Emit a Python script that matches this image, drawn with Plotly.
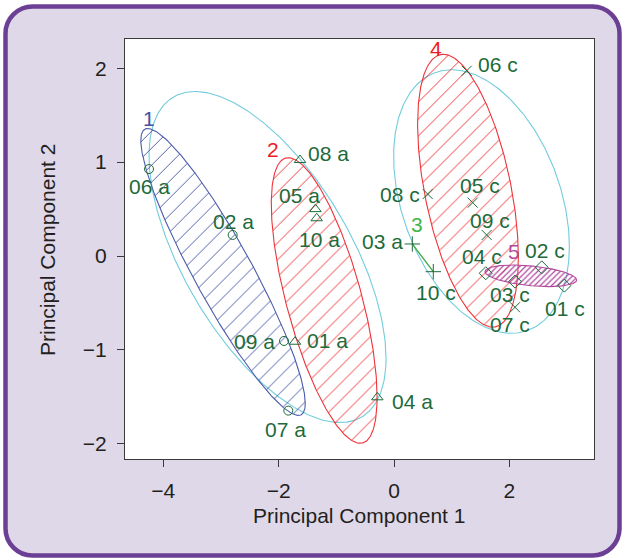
import numpy as np
import plotly.graph_objects as go

# ---------------- data ----------------
point_labels = ["06 a", "02 a", "09 a", "07 a",
                "08 a", "05 a", "10 a", "01 a", "04 a",
                "03 a", "10 c",
                "06 c", "08 c", "05 c", "09 c", "07 c",
                "04 c", "02 c", "03 c", "01 c"]
pc1 = [-4.246, -2.796, -1.906, -1.832,
       -1.629, -1.362, -1.340, -1.716, -0.289,
       0.317, 0.681,
       1.260, 0.584, 1.364, 1.606, 2.097,
       1.589, 2.560, 2.097, 2.952]
pc2 = [0.926, 0.224, -0.905, -1.647,
       1.022, 0.499, 0.402, -0.913, -1.505,
       0.128, -0.167,
       1.973, 0.660, 0.568, 0.224, -0.546,
       -0.184, -0.121, -0.273, -0.316]
cluster = [1, 1, 1, 1,
           2, 2, 2, 2, 2,
           3, 3,
           4, 4, 4, 4, 4,
           5, 5, 5, 5]

# cluster ellipses (centre, half-extent in x, half-extent in y, correlation)
clus_ids = [1, 2, 4, 5]
clus_cx = [-2.963, -1.210, 1.282, 2.371]
clus_cy = [-0.170, -0.474, 0.695, -0.211]
clus_sx = [1.425, 0.917, 0.873, 0.794]
clus_sy = [1.528, 1.521, 1.453, 0.115]
clus_rho = [-0.916, -0.677, -0.488, -0.390]

# outer (cyan) ellipses
outer_cx = [-2.192, 1.516]
outer_cy = [-0.011, 0.580]
outer_sx = [2.054, 1.523]
outer_sy = [1.763, 1.403]
outer_rho = [-0.612, -0.341]

x_ticks = [-4, -2, 0, 2]
y_ticks = [-2, -1, 0, 1, 2]
x_title = "Principal Component 1"
y_title = "Principal Component 2"

# ---------------- styles ----------------
FONT = "Liberation Sans, Arial, Helvetica, sans-serif"
FS = 21
TXT = "#231F20"
LBL = "#1D6B3A"
clus_line = {1: "#4B5BAA", 2: "#EE3338", 3: "#3DA641", 4: "#EE3338", 5: "#B0489E"}
clus_text = {1: "#3F51A5", 2: "#ED1C24", 3: "#40B549", 4: "#ED1C24", 5: "#B04BA0"}
clus_hatch = {1: dict(size=12, solidity=0.08), 2: dict(size=12, solidity=0.08),
              4: dict(size=12, solidity=0.08), 5: dict(size=4, solidity=0.3)}
symbols = {1: "circle-open", 2: "triangle-up-open", 3: "cross-thin-open",
           4: "x-thin-open", 5: "diamond-open"}
msize = {1: 9, 2: 10, 3: 11, 4: 10, 5: 10}
CYAN = "#72CCDC"

# label offsets in pixels (dx right, dy down) from each point
lab_dx = [0, 1, -30, -3, 28, -16, 3, 33, 35, -30, 3, 31, -28, 7, 3, -5, -4, 3, -5, 1]
lab_dy = [17, -13, 1, 19, -7, -14, 21, -1, 4, -2, 21, -6, 0, -17, -14, 17, -17, -17, 13, 23]
# cluster number offsets (pixels) from the top of each cluster's ellipse
cnum_off = {1: (1, -10), 2: (-15, -8), 3: (5, -19), 4: (-7, -6), 5: (1, -14)}

W, H = 622, 558
ML, MR, MT, MB = 125, 28, 39, 99
PW, PH = W - ML - MR, H - MT - MB


def ellipse(cx, cy, sx, sy, rho, n=361):
    t = np.linspace(0, 2 * np.pi, n)
    x = cx + sx * np.cos(t)
    y = cy + sy * (rho * np.cos(t) + np.sqrt(1 - rho ** 2) * np.sin(t))
    return x, y


fig = go.Figure()

# outer cyan ellipses
for cx, cy, sx, sy, r in zip(outer_cx, outer_cy, outer_sx, outer_sy, outer_rho):
    ex, ey = ellipse(cx, cy, sx, sy, r)
    fig.add_trace(go.Scatter(x=ex, y=ey, mode="lines",
                             line=dict(color=CYAN, width=1.1),
                             hoverinfo="skip", showlegend=False))

# hatched cluster ellipses
tops = {}
for cid, cx, cy, sx, sy, r in zip(clus_ids, clus_cx, clus_cy, clus_sx, clus_sy, clus_rho):
    ex, ey = ellipse(cx, cy, sx, sy, r)
    col = clus_line[cid]
    fig.add_trace(go.Scatter(x=ex, y=ey, mode="lines", fill="toself",
                             fillcolor="rgba(0,0,0,0)",
                             fillpattern=dict(shape="/", fgcolor=col, fgopacity=1,
                                              bgcolor="rgba(0,0,0,0)",
                                              fillmode="overlay",
                                              **clus_hatch[cid]),
                             line=dict(color=col, width=1.1),
                             hoverinfo="skip", showlegend=False))
    tops[cid] = (cx + r * sx, cy + sy)

# cluster 3: two points -> segment
c3x = [x for x, c in zip(pc1, cluster) if c == 3]
c3y = [y for y, c in zip(pc2, cluster) if c == 3]
fig.add_trace(go.Scatter(x=c3x, y=c3y, mode="lines",
                         line=dict(color=clus_line[3], width=1.3),
                         hoverinfo="skip", showlegend=False))
i3 = int(np.argmax(c3y))
tops[3] = (c3x[i3], c3y[i3])

# points
for cid in [1, 2, 3, 4, 5]:
    xs = [x for x, c in zip(pc1, cluster) if c == cid]
    ys = [y for y, c in zip(pc2, cluster) if c == cid]
    fig.add_trace(go.Scatter(x=xs, y=ys, mode="markers",
                             marker=dict(symbol=symbols[cid], size=msize[cid],
                                         color=LBL, line=dict(color=LBL, width=1)),
                             showlegend=False))

annotations = []
for lab, x, y, dx, dy in zip(point_labels, pc1, pc2, lab_dx, lab_dy):
    annotations.append(dict(x=x, y=y, text=lab, showarrow=False,
                            xshift=dx, yshift=-dy, xanchor="center", yanchor="middle",
                            font=dict(family=FONT, size=FS, color=LBL)))
for cid in [1, 2, 3, 4, 5]:
    tx, ty = tops[cid]
    dx, dy = cnum_off[cid]
    annotations.append(dict(x=tx, y=ty, text=str(cid), showarrow=False,
                            xshift=dx, yshift=-dy, xanchor="center", yanchor="middle",
                            font=dict(family=FONT, size=FS, color=clus_text[cid])))

# axis titles
annotations.append(dict(xref="paper", yref="paper", x=(358.5 - ML) / PW, y=(H - MB - 515) / PH,
                        text=x_title, showarrow=False, xanchor="center", yanchor="middle",
                        font=dict(family=FONT, size=FS, color=TXT)))
annotations.append(dict(xref="paper", yref="paper", x=(47 - ML) / PW, y=(H - MB - 250) / PH,
                        text=y_title, showarrow=False, xanchor="center", yanchor="middle",
                        textangle=-90, font=dict(family=FONT, size=FS, color=TXT)))


def X(px):
    return (px - ML) / PW


def Y(py):
    return (H - MB - py) / PH


x0, y0, x1, y1, rr = 5.5, 6.5, 619.5, 555.5, 27
k = 0.45
path = (f"M {X(x0+rr)},{Y(y0)} L {X(x1-rr)},{Y(y0)} "
        f"C {X(x1-rr*k)},{Y(y0)} {X(x1)},{Y(y0+rr*k)} {X(x1)},{Y(y0+rr)} "
        f"L {X(x1)},{Y(y1-rr)} "
        f"C {X(x1)},{Y(y1-rr*k)} {X(x1-rr*k)},{Y(y1)} {X(x1-rr)},{Y(y1)} "
        f"L {X(x0+rr)},{Y(y1)} "
        f"C {X(x0+rr*k)},{Y(y1)} {X(x0)},{Y(y1-rr*k)} {X(x0)},{Y(y1-rr)} "
        f"L {X(x0)},{Y(y0+rr)} "
        f"C {X(x0)},{Y(y0+rr*k)} {X(x0+rr*k)},{Y(y0)} {X(x0+rr)},{Y(y0)} Z")

shapes = [
    dict(type="path", xref="paper", yref="paper", path=path, layer="below",
         fillcolor="#DFD8E8", line=dict(color="#6B3F94", width=4.5)),
    dict(type="rect", xref="paper", yref="paper", x0=0, y0=0, x1=1, y1=1,
         layer="below", fillcolor="white", line=dict(width=0)),
]

axis_common = dict(showgrid=False, zeroline=False, showline=True, mirror=True,
                   linecolor="#3a3a3a", linewidth=1, ticks="outside", ticklen=7,
                   tickcolor="#3a3a3a", tickwidth=1,
                   tickfont=dict(family=FONT, size=FS, color=TXT),
                   ticklabelstandoff=6)

fig.update_layout(
    width=W, height=H,
    margin=dict(l=ML, r=MR, t=MT, b=MB, pad=0),
    paper_bgcolor="white", plot_bgcolor="white",
    xaxis=dict(range=[-4.662, 3.466], tickvals=x_ticks, **axis_common),
    yaxis=dict(range=[-2.162, 2.311], tickvals=y_ticks, **axis_common),
    shapes=shapes, annotations=annotations, showlegend=False,
)

fig.write_html("out.html", config={"displayModeBar": False},
               post_script="document.body.style.margin='0px';document.body.style.padding='0px';document.body.style.overflow='hidden';")
